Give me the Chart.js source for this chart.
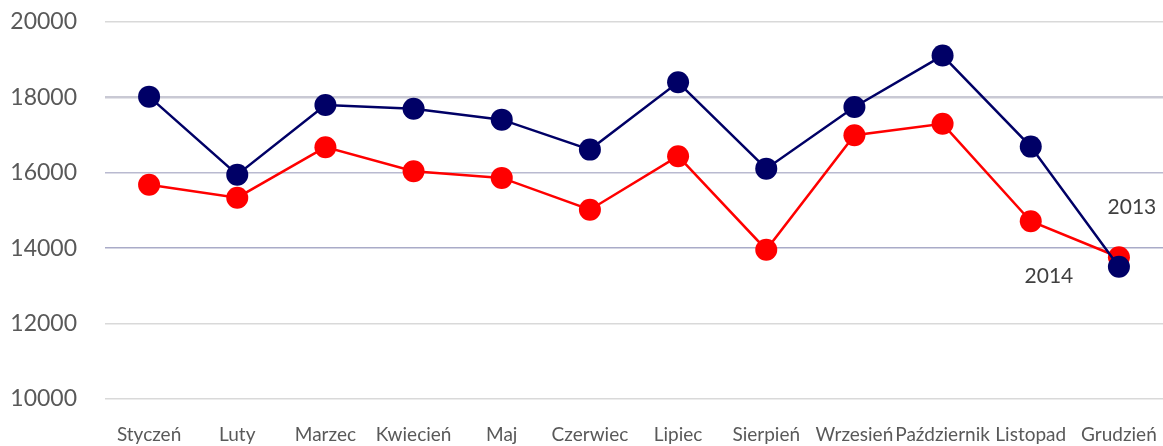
<!DOCTYPE html>
<html lang="pl">
<head>
<meta charset="UTF-8">
<title>2013 vs 2014</title>
<script src="https://cdn.jsdelivr.net/npm/chart.js"></script>
<style>
    body { margin: 0; padding: 0; background: #fff; }
    .wrap { width: 1163px; height: 446px; position: relative; }
</style>
</head>
<body>
<div class="wrap">
    <canvas id="chart"></canvas>
</div>
<script>
const months = ['Styczeń', 'Luty', 'Marzec', 'Kwiecień', 'Maj', 'Czerwiec', 'Lipiec', 'Sierpień', 'Wrzesień', 'Październik', 'Listopad', 'Grudzień'];
const values2013 = [18020, 15950, 17800, 17700, 17410, 16615, 18400, 16110, 17745, 19110, 16695, 13510];
const values2014 = [15685, 15340, 16680, 16040, 15865, 15020, 16440, 13960, 16995, 17300, 14715, 13760];
const yTicks = [10000, 12000, 14000, 16000, 18000, 20000];

// kolory linii siatki dla kolejnych wartości
const gridColors = {
    10000: '#d9d9d9',
    12000: '#d9d9d9',
    14000: '#a9abc8',
    16000: '#b9bad0',
    18000: '#c9c9d4',
    20000: '#d9d9d9'
};

// podpisy serii przy ostatnim punkcie
const seriesLabels = {
    id: 'seriesLabels',
    afterDatasetsDraw(chart) {
        const ctx = chart.ctx;
        const last = months.length - 1;
        const p13 = chart.getDatasetMeta(0).data[last];
        const p14 = chart.getDatasetMeta(1).data[last];
        ctx.save();
        ctx.font = '21px Lato';
        ctx.fillStyle = '#404040';
        ctx.textAlign = 'center';
        ctx.textBaseline = 'middle';
        ctx.fillText('2013', p13.x + 13, p13.y - 59);
        ctx.fillText('2014', p14.x - 70, p14.y + 19);
        ctx.restore();
    }
};

const ctx = document.getElementById('chart').getContext('2d');
const chart = new Chart(ctx, {
    type: 'line',
    data: {
        labels: months,
        datasets: [{
            label: '2013',
            data: values2013,
            borderColor: '#000066',
            backgroundColor: '#000066',
            borderWidth: 2.5,
            pointRadius: 11,
            pointHoverRadius: 11,
            pointBackgroundColor: '#000066',
            pointBorderWidth: 0,
            tension: 0
        }, {
            label: '2014',
            data: values2014,
            borderColor: '#ff0000',
            backgroundColor: '#ff0000',
            borderWidth: 2.5,
            pointRadius: 11,
            pointHoverRadius: 11,
            pointBackgroundColor: '#ff0000',
            pointBorderWidth: 0,
            tension: 0
        }]
    },
    options: {
        responsive: true,
        maintainAspectRatio: false,
        animation: false,
        layout: { padding: 0, autoPadding: false },
        plugins: {
            legend: { display: false },
            tooltip: { enabled: false }
        },
        scales: {
            x: {
                offset: true,
                grid: { display: false, drawTicks: false, offset: true },
                border: { display: false },
                ticks: {
                    color: '#595959',
                    padding: 24,
                    maxRotation: 0,
                    autoSkip: false,
                    font: { family: 'Lato', size: 19 }
                },
                afterFit: (s) => {
                    s.height = 47;
                    s.paddingLeft = 0;
                    s.paddingRight = 0;
                }
            },
            y: {
                min: 10000,
                max: 20000,
                afterBuildTicks: (axis) => { axis.ticks = yTicks.map(v => ({ value: v })); },
                border: { display: false },
                grid: {
                    drawTicks: false,
                    color: (c) => gridColors[c.tick.value] || '#d9d9d9',
                    lineWidth: (c) => c.tick.value === 18000 ? 2.5 : 1.5
                },
                ticks: {
                    color: '#595959',
                    padding: 28,
                    font: { family: 'Lato', size: 23 },
                    callback: (v) => String(v)
                },
                afterFit: (s) => {
                    s.width = 105;
                    s.paddingTop = 22;
                    s.paddingBottom = 0;
                }
            }
        }
    },
    plugins: [seriesLabels]
});
</script>
</body>
</html>
